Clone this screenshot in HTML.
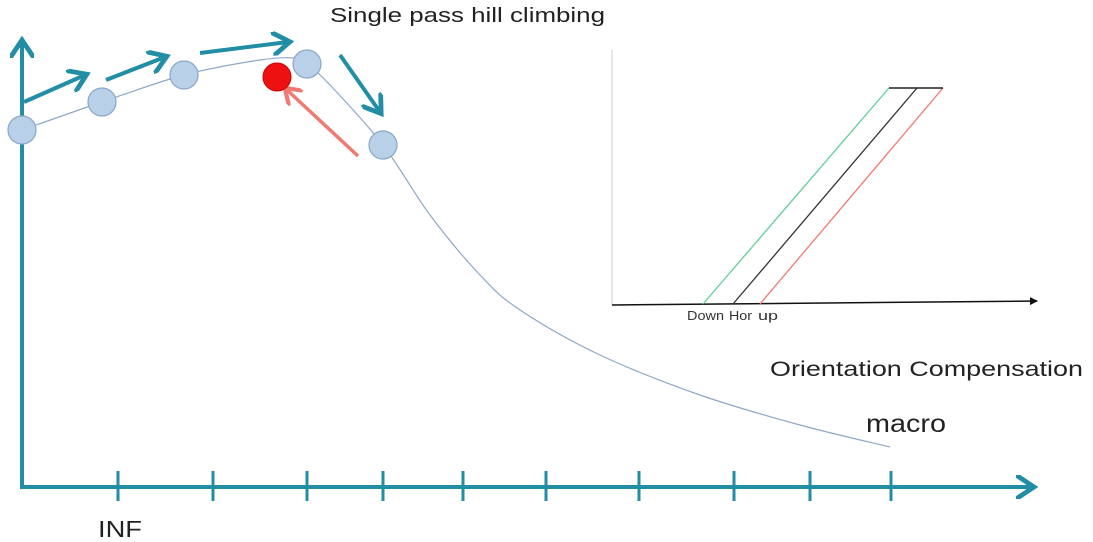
<!DOCTYPE html>
<html><head><meta charset="utf-8"><style>
body{margin:0;background:#fff;}
svg{display:block;font-family:"Liberation Sans",sans-serif;}
</style></head><body>
<svg id="chart" width="1093" height="542">
<defs>
<marker id="ah" markerWidth="6" markerHeight="6" refX="4" refY="3" orient="auto" markerUnits="strokeWidth"><path d="M0,0 L4.5,3 L0,6" fill="none" stroke="#218ea6" stroke-width="1.2"/></marker>
<marker id="ahr" markerWidth="6" markerHeight="6" refX="4" refY="3" orient="auto" markerUnits="strokeWidth"><path d="M0,0 L4.5,3 L0,6" fill="none" stroke="#f07a72" stroke-width="1.2"/></marker>
<marker id="ahk" markerWidth="8" markerHeight="8" refX="7" refY="4" orient="auto" markerUnits="userSpaceOnUse"><path d="M0,0 L8,4 L0,8z" fill="#111"/></marker>
</defs>
<text x="330" y="22" font-size="20" textLength="275" lengthAdjust="spacingAndGlyphs" fill="#222">Single pass hill climbing</text>
<g id="main"></g>
<g id="inset"></g>
<text x="770" y="376" font-size="21" textLength="313" lengthAdjust="spacingAndGlyphs" fill="#222">Orientation Compensation</text>
<text x="866" y="432" font-size="25" textLength="80" lengthAdjust="spacingAndGlyphs" fill="#222">macro</text>
<text x="98" y="537" font-size="23" textLength="44" lengthAdjust="spacingAndGlyphs" fill="#222">INF</text>
</svg>
<script>
// main curve (pixel-space sketch points)
const curveX=[22,102,184,260,295,307,330,383,430,480,520,600,700,800,890];
const curveY=[130,102,75,60,58,64,85,145,215,275,310,355,395,425,447];
const stepX=[22,102,184,307,383];
const stepY=[130,102,75,64,145];
const tickX=[118,213,307,383,463,546,639,734,810,891];
const insetStarts=[703,733,760];
const insetEnds=[889,917,943];
const insetColors=["#5fcf9a","#333","#f07a72"];

const NS="http://www.w3.org/2000/svg";
function mk(tag,attrs,parent){const e=document.createElementNS(NS,tag);for(const k in attrs)e.setAttribute(k,attrs[k]);parent.appendChild(e);return e;}
const main=document.getElementById('main');
const teal="#218ea6";
let a=mk('line',{x1:22,y1:487,x2:22,y2:42,stroke:teal,'stroke-width':4,'marker-end':'url(#ah)'},main);


a=mk('line',{x1:20,y1:487,x2:1032,y2:487,stroke:teal,'stroke-width':4,'marker-end':'url(#ah)'},main);


tickX.forEach(x=>{const t=mk('line',{x1:x,y1:471,x2:x,y2:501,stroke:teal,'stroke-width':3},main);

});
let d="M"+curveX[0]+","+curveY[0];
for(let i=0;i<curveX.length-1;i++){
 const p0=[curveX[Math.max(i-1,0)],curveY[Math.max(i-1,0)]],p1=[curveX[i],curveY[i]],p2=[curveX[i+1],curveY[i+1]],p3=[curveX[Math.min(i+2,curveX.length-1)],curveY[Math.min(i+2,curveX.length-1)]];
 d+=` C${p1[0]+(p2[0]-p0[0])/6},${p1[1]+(p2[1]-p0[1])/6} ${p2[0]-(p3[0]-p1[0])/6},${p2[1]-(p3[1]-p1[1])/6} ${p2[0]},${p2[1]}`;
}
const c=mk('path',{d:d,fill:'none',stroke:'#8fa8c8','stroke-width':1.2},main);


const arrows=[[24,102,85,75],[106,80,165,57],[200,53,288,42],[340,55,380,112]];
arrows.forEach(r=>{const l=mk('line',{x1:r[0],y1:r[1],x2:r[2],y2:r[3],stroke:teal,'stroke-width':4,'marker-end':'url(#ah)'},main);

});
const ra=mk('line',{x1:358,y1:156,x2:286,y2:89,stroke:'#f07a72','stroke-width':3.5,'marker-end':'url(#ahr)'},main);


stepX.forEach((x,i)=>{const p=mk('circle',{cx:x,cy:stepY[i],r:14,fill:'#b8d0e8',stroke:'#8aa6c6','stroke-width':1.2},main);

});
const rp=mk('circle',{cx:277,cy:77,r:14,fill:'#ee1111',stroke:'#c00','stroke-width':1},main);



const inset=document.getElementById('inset');
let ia=mk('line',{x1:612,y1:305,x2:612,y2:50,stroke:'#ddd','stroke-width':1.5},inset);


ia=mk('line',{x1:612,y1:305,x2:1037,y2:301,stroke:'#111','stroke-width':1.5,'marker-end':'url(#ahk)'},inset);


insetStarts.forEach((x,i)=>{const l=mk('line',{x1:x,y1:304,x2:insetEnds[i],y2:88,stroke:insetColors[i],'stroke-width':1.3},inset);

});
ia=mk('line',{x1:889,y1:88,x2:943,y2:88,stroke:'#222','stroke-width':1.5},inset);


[["Down",687,37],["Hor",729,23],["up",758,20]].forEach(t=>{const e=mk('text',{x:t[1],y:320,'font-size':13,fill:'#333',textLength:t[2],lengthAdjust:'spacingAndGlyphs'},inset);e.textContent=t[0];

});
</script>
</body></html>
